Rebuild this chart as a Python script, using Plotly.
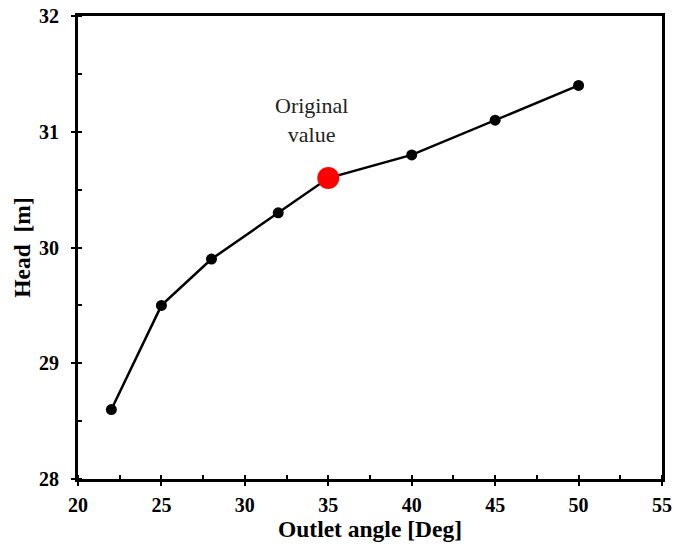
import plotly.graph_objects as go

# Head vs. outlet angle
outlet_angle = [22, 25, 28, 32, 35, 40, 45, 50]
head = [28.6, 29.5, 29.9, 30.3, 30.6, 30.8, 31.1, 31.4]
original_angle = 35
original_head = 30.6

font_family = "Times New Roman"

fig = go.Figure()
fig.add_trace(go.Scatter(
    x=outlet_angle, y=head, mode="lines+markers",
    line=dict(color="black", width=2.5),
    marker=dict(color="black", size=11),
    showlegend=False,
))
fig.add_trace(go.Scatter(
    x=[original_angle], y=[original_head], mode="markers",
    marker=dict(color="#ff0000", size=22),
    showlegend=False,
))

fig.add_annotation(
    x=34, y=31.1, text="Original<br>value", showarrow=False,
    font=dict(family=font_family, size=22, color="#222222"),
)

axis_common = dict(
    showline=True, linecolor="black", linewidth=3, mirror=True,
    showgrid=False, zeroline=False, automargin=False,
    ticks="outside", ticklen=4, tickwidth=2, tickcolor="black",
    tickfont=dict(family=font_family, size=20, color="black", weight="bold"),
)

fig.update_layout(
    width=676, height=548,
    margin=dict(l=78, r=14, t=16, b=69),
    paper_bgcolor="white", plot_bgcolor="white",
    font=dict(family=font_family),
    xaxis=dict(
        range=[20, 55], dtick=5, tick0=20,
        ticklabelstandoff=2,
        title=dict(text="Outlet angle [Deg]", standoff=6,
                   font=dict(family=font_family, size=23.5, color="black", weight="bold")),
        minor=dict(ticks="inside", dtick=2.5, ticklen=4, tickwidth=2, tickcolor="black"),
        **axis_common,
    ),
    yaxis=dict(
        range=[28, 32], dtick=1, tick0=28,
        ticklabelstandoff=8,
        title=dict(text="Head&nbsp; [m]", standoff=2,
                   font=dict(family=font_family, size=23.5, color="black", weight="bold")),
        minor=dict(ticks="inside", dtick=0.5, ticklen=4, tickwidth=2, tickcolor="black"),
        **axis_common,
    ),
    # overlay axes give the major ticks their inner half
    xaxis2=dict(range=[20, 55], dtick=5, tick0=20, overlaying="x", side="bottom",
                ticks="inside", ticklen=4, tickwidth=2, tickcolor="black", automargin=False,
                showticklabels=False, showgrid=False, zeroline=False, showline=False),
    yaxis2=dict(range=[28, 32], dtick=1, tick0=28, overlaying="y", side="left",
                ticks="inside", ticklen=4, tickwidth=2, tickcolor="black", automargin=False,
                showticklabels=False, showgrid=False, zeroline=False, showline=False),
)
# dummy trace so the overlay axes are drawn
fig.add_trace(go.Scatter(x=[None], y=[None], xaxis="x2", yaxis="y2", showlegend=False))

fig.write_html("out.html")
